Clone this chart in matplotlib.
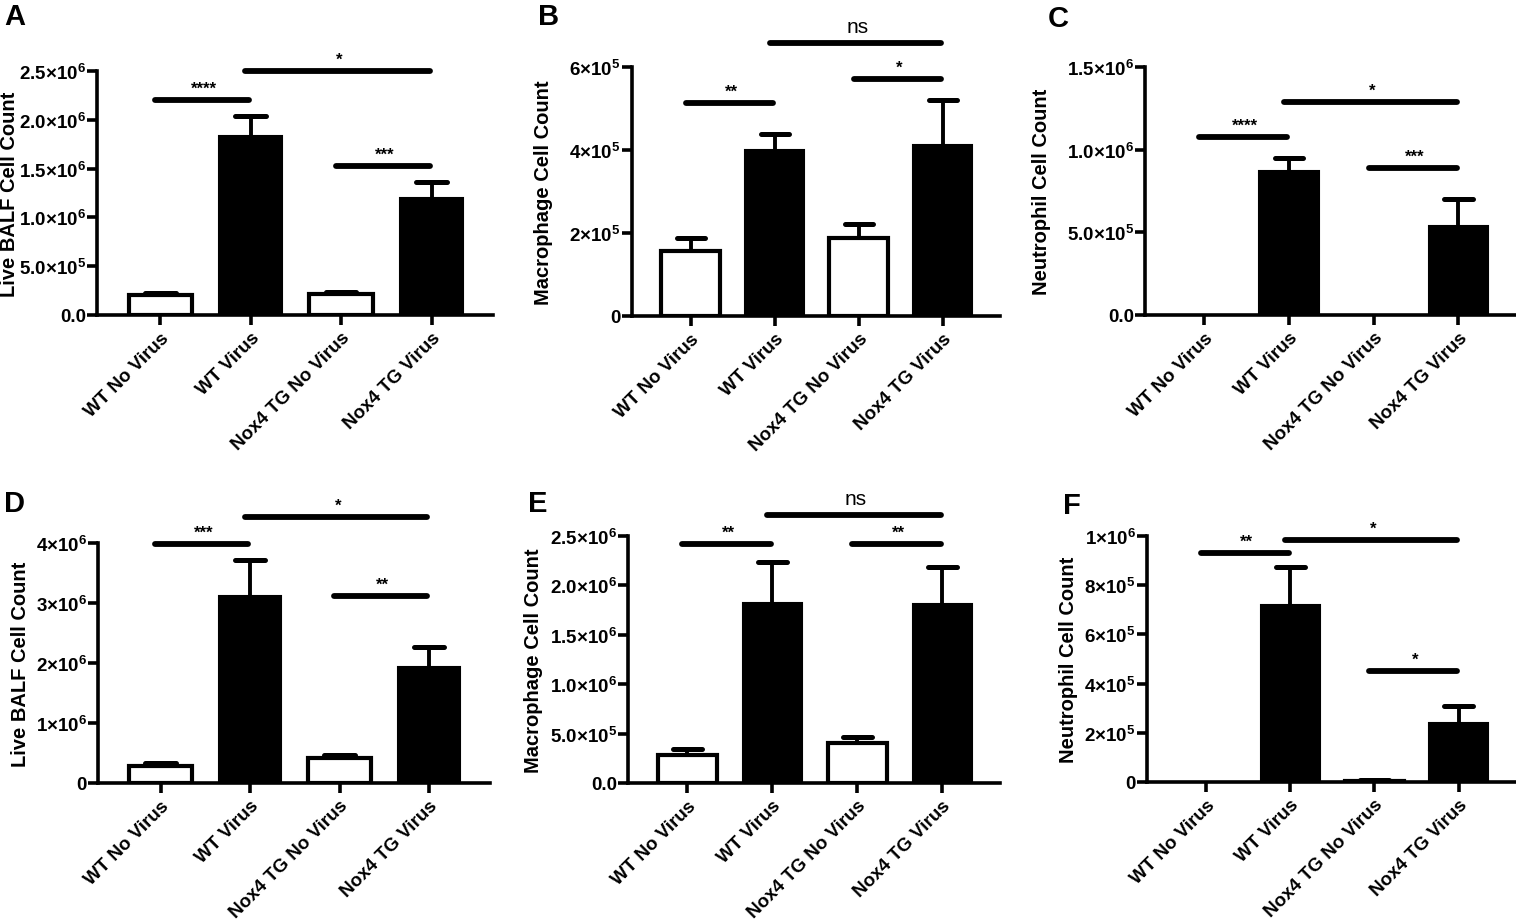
import matplotlib
matplotlib.use('Agg')
import matplotlib.pyplot as plt
import numpy as np

plt.rcParams['font.family'] = ['Liberation Sans', 'DejaVu Sans']
plt.rcParams['font.weight'] = 'bold'
plt.rcParams['mathtext.fontset'] = 'custom'
plt.rcParams['mathtext.rm'] = 'Liberation Sans:bold'
plt.rcParams['mathtext.it'] = 'Liberation Sans:bold'
plt.rcParams['mathtext.bf'] = 'Liberation Sans:bold'

groups = ['WT No Virus', 'WT Virus', 'Nox4 TG No Virus', 'Nox4 TG Virus']
filled = [False, True, False, True]

# panel A - live BALF
a_mean = [2.0e5, 1.83e6, 2.15e5, 1.2e6]
a_err = [0.3e5, 0.21e6, 0.22e5, 0.16e6]
a_sig = [(0, 1, 2.2e6, '****'), (1, 3, 2.5e6, '*'), (2, 3, 1.53e6, '***')]
a_ticks = [0, 5e5, 1e6, 1.5e6, 2e6, 2.5e6]
a_labels = ['0.0', '5.0×10^5', '1.0×10^6', '1.5×10^6', '2.0×10^6', '2.5×10^6']

# panel B - macrophage
b_mean = [1.57e5, 4.0e5, 1.88e5, 4.12e5]
b_err = [0.31e5, 0.39e5, 0.34e5, 1.08e5]
b_sig = [(0, 1, 5.13e5, '**'), (1, 3, 6.58e5, 'ns'), (2, 3, 5.71e5, '*')]
b_ticks = [0, 2e5, 4e5, 6e5]
b_labels = ['0', '2×10^5', '4×10^5', '6×10^5']

# panel C - neutrophil
c_mean = [0, 8.7e5, 0, 5.4e5]
c_err = [0, 0.8e5, 0, 1.6e5]
c_sig = [(0, 1, 1.077e6, '****'), (1, 3, 1.29e6, '*'), (2, 3, 0.889e6, '***')]
c_ticks = [0, 5e5, 1e6, 1.5e6]
c_labels = ['0.0', '5.0×10^5', '1.0×10^6', '1.5×10^6']

# panel D - live BALF
d_mean = [0.29e6, 3.12e6, 0.42e6, 1.94e6]
d_err = [0.05e6, 0.59e6, 0.05e6, 0.33e6]
d_sig = [(0, 1, 3.98e6, '***'), (1, 3, 4.44e6, '*'), (2, 3, 3.12e6, '**')]
d_ticks = [0, 1e6, 2e6, 3e6, 4e6]
d_labels = ['0', '1×10^6', '2×10^6', '3×10^6', '4×10^6']

# panel E - macrophage
e_mean = [0.284e6, 1.824e6, 0.405e6, 1.814e6]
e_err = [0.06e6, 0.41e6, 0.058e6, 0.37e6]
e_sig = [(0, 1, 2.415e6, '**'), (1, 3, 2.716e6, 'ns'), (2, 3, 2.415e6, '**')]
e_ticks = [0, 5e5, 1e6, 1.5e6, 2e6, 2.5e6]
e_labels = ['0.0', '5.0×10^5', '1.0×10^6', '1.5×10^6', '2.0×10^6', '2.5×10^6']

# panel F - neutrophil
f_mean = [0, 7.18e5, 5e3, 2.4e5]
f_err = [0, 1.56e5, 3e3, 0.69e5]
f_sig = [(0, 1, 0.932e6, '**'), (1, 3, 0.985e6, '*'), (2, 3, 0.451e6, '*')]
f_ticks = [0, 2e5, 4e5, 6e5, 8e5, 1e6]
f_labels = ['0', '2×10^5', '4×10^5', '6×10^5', '8×10^5', '1×10^6']

W, H = 1516, 920
fig = plt.figure(figsize=(W / 100, H / 100), dpi=100)


def to_math(s):
    if '^' not in s:
        return s
    base, exp = s.split('^')
    base = base.replace('×', r'{\times}')
    return r'$\mathregular{' + base + '}^{' + exp + '}$'


def panel(rect, letter, letter_xy, ylabel, ylabel_x, mean, err, sig, ticks, labels):
    left, top, right, bottom = rect
    ax = fig.add_axes([left / W, 1 - bottom / H, (right - left) / W, (bottom - top) / H])
    x = np.arange(len(groups))

    # upper-only error bars with rounded caps
    for i in range(len(x)):
        if err[i] <= 0:
            continue
        hi = mean[i] + err[i]
        ax.plot([x[i], x[i]], [mean[i], hi], color='black', lw=2.8,
                solid_capstyle='butt', zorder=1)
        ax.plot([x[i] - 0.17, x[i] + 0.17], [hi, hi], color='black', lw=3.6,
                solid_capstyle='round', zorder=1)

    for i in range(len(x)):
        if mean[i] <= 0:
            continue
        ax.bar(x[i], mean[i], width=0.7, color='black' if filled[i] else 'white',
               edgecolor='black', linewidth=1.5 if filled[i] else 3, zorder=2)

    ax.set_xlim(-0.7, 3.68)
    ax.set_ylim(0, ticks[-1])
    ax.set_yticks(ticks, [to_math(l) for l in labels])
    ax.set_xticks(x, groups, rotation=45, ha='right', rotation_mode='anchor')
    ax.tick_params(axis='both', direction='out', length=7, width=2.6)
    ax.tick_params(axis='y', labelsize=13.5, pad=1)
    ax.tick_params(axis='x', labelsize=13.5, pad=3)
    for s in ['top', 'right']:
        ax.spines[s].set_visible(False)
    for s in ['left', 'bottom']:
        ax.spines[s].set_linewidth(2.6)
    ax.set_ylabel(ylabel, fontsize=14.5, fontweight='bold')
    ax.yaxis.set_label_coords((ylabel_x - left) / (right - left), 0.5)

    for i, j, y, lab in sig:
        ax.plot([i - 0.06, j - 0.02], [y, y], color='black', lw=4.2,
                solid_capstyle='round', clip_on=False, zorder=3)
        if lab == 'ns':
            ax.annotate(lab, ((i + j) / 2 - 0.02, y), xytext=(0, 5), textcoords='offset points',
                        ha='center', va='bottom', fontsize=15, fontweight='normal',
                        annotation_clip=False)
        else:
            ax.annotate(lab, ((i + j) / 2 - 0.02, y), xytext=(0, 3), textcoords='offset points',
                        ha='center', va='bottom', fontsize=12, fontweight='bold',
                        annotation_clip=False)

    fig.text(letter_xy[0] / W, 1 - letter_xy[1] / H, letter, fontsize=21,
             fontweight='bold', ha='left', va='top')
    return ax


panel((97, 72, 493, 316), 'A', (4, 3), 'Live BALF Cell Count', 19,
      a_mean, a_err, a_sig, a_ticks, a_labels)
panel((632, 68, 1000, 317), 'B', (538, 3), 'Macrophage Cell Count', 553,
      b_mean, b_err, b_sig, b_ticks, b_labels)
panel((1145, 68, 1516, 316), 'C', (1048, 5), 'Neutrophil Cell Count', 1051,
      c_mean, c_err, c_sig, c_ticks, c_labels)
panel((98, 544, 490, 784), 'D', (4, 490), 'Live BALF Cell Count', 30,
      d_mean, d_err, d_sig, d_ticks, d_labels)
panel((628, 537, 1000, 784), 'E', (528, 490), 'Macrophage Cell Count', 543,
      e_mean, e_err, e_sig, e_ticks, e_labels)
panel((1147, 537, 1516, 783), 'F', (1063, 492), 'Neutrophil Cell Count', 1078,
      f_mean, f_err, f_sig, f_ticks, f_labels)

fig.savefig('out.png', dpi=100)
